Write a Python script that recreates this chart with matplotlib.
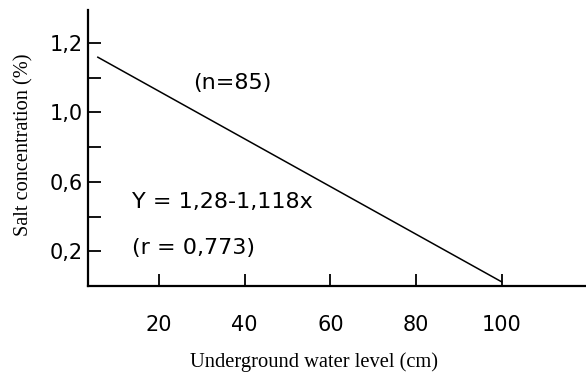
import matplotlib
matplotlib.use("Agg")
import matplotlib.pyplot as plt

# Data
line_x = [5.7, 100.0]
line_y = [1.318, 0.024]          # in axis units (ticks equally spaced)
x_ticks = [20, 40, 60, 80, 100]
x_tick_labels = ["20", "40", "60", "80", "100"]
y_ticks = [0.2, 0.4, 0.6, 0.8, 1.0, 1.2, 1.4]
y_tick_labels = ["0,2", "", "0,6", "", "1,0", "", "1,2"]

sans = ["DejaVu Sans"]
serif = ["Liberation Serif", "DejaVu Serif"]

fig = plt.figure(figsize=(5.86, 3.75), dpi=100)
ax = fig.add_axes([88/586, 1-286/375, 1-88/586, (286-10)/375])

ax.plot(line_x, line_y, color="black", lw=1.1)

ax.set_xlim(3.4, 119.7)
ax.set_ylim(0.0, 1.59)
ax.set_xticks(x_ticks)
ax.set_xticklabels(x_tick_labels, family=sans, fontsize=15)
ax.set_yticks(y_ticks)
ax.set_yticklabels(y_tick_labels, family=sans, fontsize=15)
ax.tick_params(axis="x", direction="in", length=9, width=1.3, pad=21)
ax.tick_params(axis="y", direction="in", length=9, width=1.3, pad=4)

for s in ["top", "right"]:
    ax.spines[s].set_visible(False)
for s in ["left", "bottom"]:
    ax.spines[s].set_linewidth(1.6)

ax.text(0.211, 0.736, "(n=85)", transform=ax.transAxes, family=sans, fontsize=16, va="center")
ax.text(0.088, 0.304, "Y = 1,28-1,118x", transform=ax.transAxes, family=sans, fontsize=16, va="center")
ax.text(0.088, 0.138, "(r = 0,773)", transform=ax.transAxes, family=sans, fontsize=16, va="center")

fig.text(24/586, 1-145/375, "Salt concentration (%)", rotation=90, family=serif,
         fontsize=14.6, ha="center", va="center")
fig.text(314/586, 1-362/375, "Underground water level (cm)", family=serif,
         fontsize=14.8, ha="center", va="center")

fig.savefig("out.png", dpi=100)
